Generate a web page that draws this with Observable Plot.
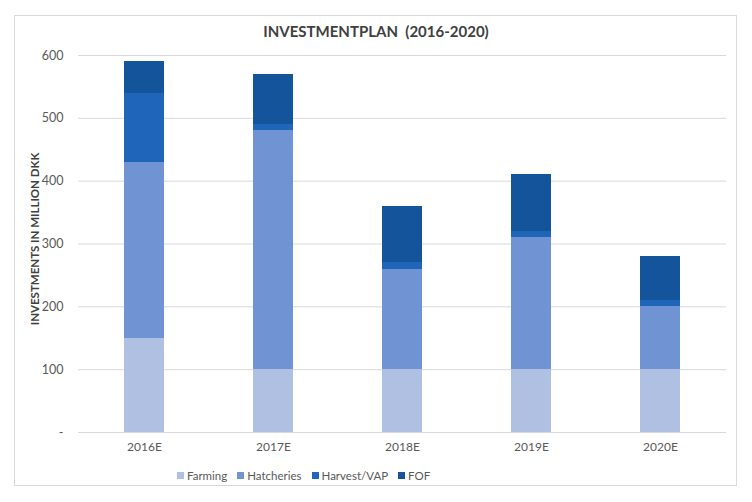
<!DOCTYPE html>
<html>
<head>
<meta charset="utf-8">
<script src="https://cdn.jsdelivr.net/npm/d3@7"></script>
<script src="https://cdn.jsdelivr.net/npm/@observablehq/plot@0.6"></script>
<style>
  html, body { margin: 0; padding: 0; background: #fff; }
  body { width: 752px; height: 502px; position: relative; overflow: hidden; font-family: Lato, "Open Sans", sans-serif; }
  #frame { position: absolute; left: 14px; top: 15px; width: 723px; height: 471px; border: 1px solid #d9d9d9; box-sizing: border-box; }
  #title { position: absolute; left: 0; top: 22px; width: 752px; text-align: center; font-size: 15px; font-weight: bold; color: #404040; }
  #chart { position: absolute; left: 0; top: 0; }
  #legend { position: absolute; top: 469px; left: 177px; display: flex; gap: 10px; font-size: 11.5px; color: #595959; }
  #legend span.sw { display: inline-block; width: 7px; height: 7px; margin-right: 3px; vertical-align: 1px; }
</style>
</head>
<body>
<div id="frame"></div>
<div id="title">INVESTMENTPLAN&nbsp; (2016-2020)</div>
<div id="chart"></div>
<div id="legend"></div>
<script>
const years = ["2016E", "2017E", "2018E", "2019E", "2020E"];
const seriesNames = ["Farming", "Hatcheries", "Harvest/VAP", "FOF"];
const farming = [150, 100, 100, 100, 100];
const hatcheries = [280, 380, 160, 210, 100];
const harvestVAP = [110, 10, 10, 10, 10];
const fof = [50, 80, 90, 90, 70];
const colors = ["#afc0e3", "#7093d3", "#1f66bb", "#13549a"];
const yTicks = [0, 100, 200, 300, 400, 500, 600];

const seriesValues = [farming, hatcheries, harvestVAP, fof];
const data = [];
years.forEach((yr, i) => {
  seriesNames.forEach((s, j) => data.push({year: yr, series: s, value: seriesValues[j][i]}));
});

const fmt = d => d === 0 ? "-" : d3.format("d")(d);

const chart = Plot.plot({
  width: 752,
  height: 460,
  marginTop: 55,
  marginBottom: 28,
  marginLeft: 78,
  marginRight: 26,
  style: {fontFamily: "Lato, 'Open Sans', sans-serif", fontSize: "12px", color: "#595959", background: "transparent"},
  x: {domain: years, paddingInner: 0.69, paddingOuter: 0.345, label: null},
  y: {domain: [0, 600], label: null},
  color: {domain: seriesNames, range: colors},
  marks: [
    Plot.gridY(yTicks, {stroke: "#d9d9d9", strokeOpacity: 1, strokeWidth: 1}),
    Plot.barY(data, {x: "year", y: "value", fill: "series", order: seriesNames, insetTop: 0, insetBottom: 0, shapeRendering: "crispEdges"}),
    Plot.axisX({tickSize: 0, tickPadding: 10, fontSize: 12, label: null}),
    Plot.axisY({ticks: yTicks, tickSize: 0, tickPadding: 15, fontSize: 12.5, tickFormat: fmt, label: null}),
    Plot.text(["INVESTMENTS IN MILLION DKK"], {frameAnchor: "left", textAnchor: "middle", dx: -43, dy: -5, rotate: -90, text: d => d, fontWeight: "bold", fontSize: 11.5, fill: "#404040"})
  ]
});
document.getElementById("chart").appendChild(chart);

const legend = document.getElementById("legend");
seriesNames.forEach((s, i) => {
  const item = document.createElement("div");
  item.innerHTML = `<span class="sw" style="background:${colors[i]}"></span>${s}`;
  legend.appendChild(item);
});
</script>
</body>
</html>
